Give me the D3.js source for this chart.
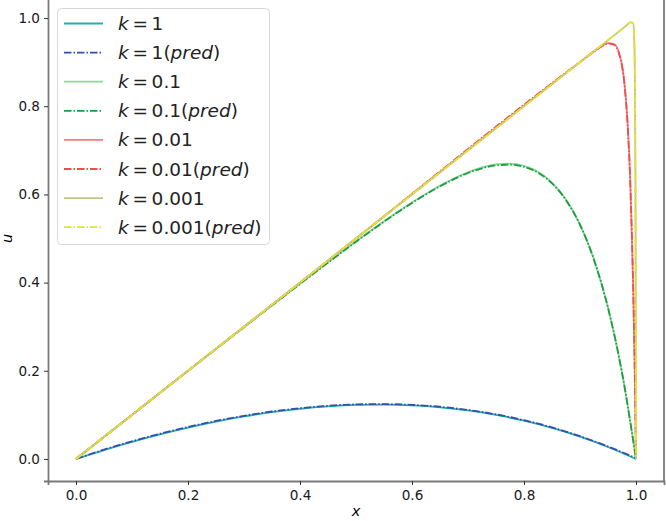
<!DOCTYPE html>
<html>
<head>
<meta charset="utf-8">
<script src="https://cdn.jsdelivr.net/npm/d3@7"></script>
<style>
  body { margin: 0; background: #fff; }
  svg { display: block; font-family: "DejaVu Sans", sans-serif; }
</style>
</head>
<body>
<div id="chart"></div>
<script>
// values
const xK1 = [0, 0.05, 0.1, 0.15, 0.2, 0.25, 0.3, 0.35, 0.4, 0.45, 0.5, 0.55, 0.6, 0.65, 0.7, 0.75, 0.8, 0.85, 0.9, 0.95, 1]
const uK1 = [0, 0.0202, 0.0388, 0.0558, 0.0712, 0.0847, 0.0964, 0.1061, 0.1138, 0.1193, 0.1225, 0.1233, 0.1215, 0.1172, 0.1100, 0.0999, 0.0868, 0.0704, 0.0505, 0.0272, 0]
const uK1pred = [0, 0.0212, 0.0400, 0.0571, 0.0726, 0.0862, 0.0979, 0.1076, 0.1152, 0.1206, 0.1238, 0.1245, 0.1227, 0.1184, 0.1112, 0.1011, 0.0880, 0.0716, 0.0516, 0.0282, 0.002]

const xK01 = [0, 0.1, 0.2, 0.3, 0.4, 0.5, 0.55, 0.6, 0.65, 0.7, 0.725, 0.75, 0.775, 0.8, 0.825, 0.85, 0.875, 0.9, 0.925, 0.95, 0.975, 1]
const uK01 = [0, 0.1, 0.2, 0.2991, 0.3975, 0.4933, 0.5389, 0.5817, 0.6198, 0.6502, 0.6611, 0.6679, 0.6696, 0.6647, 0.6512, 0.6269, 0.5885, 0.5321, 0.4526, 0.3435, 0.1962, 0]
const uK01pred = [0, 0.1, 0.2, 0.2988, 0.3970, 0.4926, 0.5381, 0.5806, 0.6184, 0.6485, 0.6592, 0.6658, 0.6674, 0.6626, 0.6492, 0.6251, 0.5870, 0.5308, 0.4516, 0.3428, 0.1958, 0]

const xK001 = [0, 0.5, 0.9, 0.93, 0.95, 0.96, 0.97, 0.98, 0.985, 0.99, 0.995, 0.9975, 1]
const uK001 = [0, 0.5, 0.9, 0.929, 0.9433, 0.9417, 0.9202, 0.8447, 0.7619, 0.6221, 0.3885, 0.2187, 0]
const uK001pred = [0, 0.5, 0.9, 0.928, 0.942, 0.940, 0.918, 0.842, 0.758, 0.618, 0.385, 0.216, 0.003]

const xK0001 = [0, 0.5, 0.98, 0.99, 0.995, 0.997, 0.998, 0.999, 0.9995, 1]
const uK0001 = [0, 0.5, 0.98, 0.99, 0.9883, 0.9472, 0.8627, 0.631, 0.393, 0]
const uK0001pred = [0, 0.5, 0.98, 0.99, 0.9880, 0.946, 0.860, 0.628, 0.390, 0.002]

const labels = ["1", "1", "0.1", "0.1", "0.01", "0.01", "0.001", "0.001"]
const colors = ["#20b2aa", "#3a4cb0", "#8ed89c", "#1b9e3e", "#f08080", "#ee4d4d", "#c2c27a", "#e4e42e"]
const xTicks = [0, 0.2, 0.4, 0.6, 0.8, 1.0]
const yTicks = [0, 0.2, 0.4, 0.6, 0.8, 1.0]

const series = [
  {x: xK1, y: uK1, pred: false},
  {x: xK1, y: uK1pred, pred: true},
  {x: xK01, y: uK01, pred: false},
  {x: xK01, y: uK01pred, pred: true},
  {x: xK001, y: uK001, pred: false},
  {x: xK001, y: uK001pred, pred: true},
  {x: xK0001, y: uK0001, pred: false},
  {x: xK0001, y: uK0001pred, pred: true}
]

const width = 666
const height = 521
const margin = {left: 48, right: 2, top: -4, bottom: 40}

const xScale = d3.scaleLinear()
    .domain([-0.05, 1.05])
    .range([margin.left, width - margin.right])
const yScale = d3.scaleLinear()
    .domain([-0.05, 1.05])
    .range([height - margin.bottom, margin.top])

const svg = d3.select("#chart")
    .append("svg")
    .attr("width", width)
    .attr("height", height)

const dash = "7.5,2,1.5,2"

const line = d3.line()
    .x(d => xScale(d[0]))
    .y(d => yScale(d[1]))
    .curve(d3.curveMonotoneX)

svg.append("g")
    .selectAll("path")
    .data(series)
    .join("path")
    .attr("d", d => line(d.x.map((v, i) => [v, d.y[i]])))
    .attr("fill", "none")
    .attr("stroke", (d, i) => colors[i])
    .attr("stroke-width", 1.8)
    .attr("stroke-dasharray", d => d.pred ? dash : null)

// axes
const xAxis = svg.append("g")
    .attr("transform", `translate(0,${height - margin.bottom})`)
    .call(d3.axisBottom(xScale).tickValues(xTicks).tickFormat(d3.format(".1f")).tickSize(4).tickPadding(5))
const yAxis = svg.append("g")
    .attr("transform", `translate(${margin.left},0)`)
    .call(d3.axisLeft(yScale).tickValues(yTicks).tickFormat(d3.format(".1f")).tickSize(4).tickPadding(4))

for (const ax of [xAxis, yAxis]) {
  ax.select(".domain").attr("stroke", "#7a7a7a").attr("stroke-width", 1.8)
  ax.selectAll(".tick line").attr("stroke", "#333")
  ax.selectAll(".tick text")
      .attr("fill", "#1a1a1a")
      .style("font-size", "13.6px")
      .style("font-family", "DejaVu Sans")
}

svg.append("line")
    .attr("x1", width - margin.right).attr("x2", width - margin.right)
    .attr("y1", 0).attr("y2", height - margin.bottom)
    .attr("stroke", "#7a7a7a")
    .attr("stroke-width", 1.8)

svg.append("text")
    .attr("x", (xScale(0) + xScale(1)) / 2)
    .attr("y", 516)
    .attr("text-anchor", "middle")
    .style("font-size", "14.5px")
    .style("font-style", "italic")
    .text("x")

svg.append("text")
    .attr("transform", `translate(12,${yScale(0.5)}) rotate(-90)`)
    .attr("text-anchor", "middle")
    .style("font-size", "14.5px")
    .style("font-style", "italic")
    .text("u")

// legend
const legend = svg.append("g")
legend.append("rect")
    .attr("x", 57.5).attr("y", 8.5)
    .attr("width", 212).attr("height", 236)
    .attr("rx", 4)
    .attr("fill", "white")
    .attr("fill-opacity", 0.85)
    .attr("stroke", "#d8d8d8")

const rows = legend.selectAll("g.row")
    .data(series)
    .join("g")
    .attr("class", "row")
    .attr("transform", (d, i) => `translate(0,${23.5 + i * 29.1})`)

rows.append("line")
    .attr("x1", 64).attr("x2", 103)
    .attr("stroke", (d, i) => colors[i])
    .attr("stroke-width", 1.8)
    .attr("stroke-dasharray", d => d.pred ? dash : null)

const txt = rows.append("text")
    .attr("x", 118)
    .attr("y", 6.5)
    .style("font-size", "18.5px")
    .attr("fill", "#222")
txt.append("tspan").style("font-style", "italic").text("k")
txt.append("tspan").text((d, i) => "\u2009=\u2009" + labels[i])
txt.filter(d => d.pred).append("tspan").text("(")
txt.filter(d => d.pred).append("tspan").style("font-style", "italic").text("pred")
txt.filter(d => d.pred).append("tspan").text(")")
</script>
</body>
</html>
